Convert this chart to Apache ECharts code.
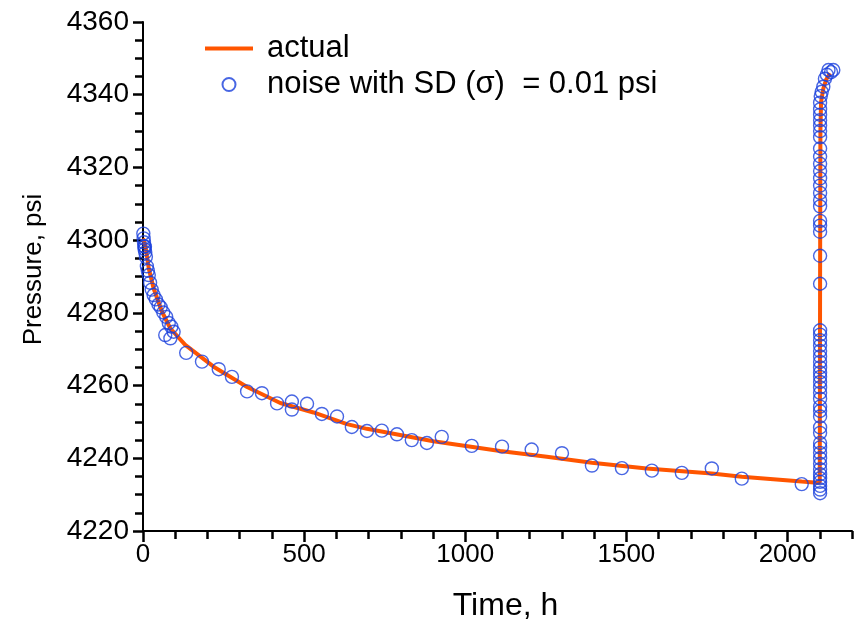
<!DOCTYPE html>
<html>
<head>
<meta charset="utf-8">
<script src="https://cdn.jsdelivr.net/npm/echarts@6/dist/echarts.min.js"></script>
<style>
html,body{margin:0;padding:0;background:#fff;}
#c{width:863px;height:632px;}
</style>
</head>
<body>
<div id="c"></div>
<script>
// ---- data (time in h, pressure in psi) ----
const actualTime = [0, 7, 18, 33, 59, 85, 131, 219, 323, 426, 529, 633, 695, 901, 1108, 1253, 1393, 1563, 1765, 1858, 2044, 2092, 2100, 2101, 2102, 2104, 2111, 2120, 2132];
const actualPressure = [4300.5, 4298.7, 4292.2, 4286.7, 4280.3, 4275.7, 4271.2, 4265.2, 4259.6, 4255.2, 4252.6, 4249.4, 4248.1, 4244.7, 4242.0, 4240.4, 4238.8, 4237.2, 4235.8, 4234.9, 4233.6, 4233.3, 4233.4, 4290, 4330, 4338, 4341.7, 4344.2, 4345.9];

const noiseTime = [1, 2, 3, 4, 5, 6, 7, 9, 12, 15, 18, 22, 27, 33, 40, 48, 55, 63, 72, 80, 88, 69, 85, 95,
  134, 183, 235, 276, 323, 369, 416, 462, 462, 509, 555, 602, 648, 695, 741, 788, 834, 881, 927, 1020, 1114, 1206, 1300, 1393, 1486, 1579, 1672, 1765, 1858, 2044,
  2101, 2101, 2101, 2101, 2101, 2101, 2101, 2101, 2101, 2101, 2101, 2101,
  2101, 2101, 2101, 2101, 2101,
  2101, 2101, 2101, 2101, 2101, 2101,
  2101, 2101, 2101, 2101, 2101, 2101, 2101, 2101,
  2101, 2101, 2101, 2101, 2101,
  2101, 2101, 2101, 2101, 2101, 2101, 2101, 2101, 2101,
  2101, 2101, 2101, 2101, 2101, 2101, 2101,
  2103, 2106, 2111, 2116, 2122, 2127, 2135, 2142];
const noisePressure = [4301.8, 4300.5, 4299.4, 4298.3, 4297.5, 4298.2, 4296.6, 4295.4, 4292.8, 4291.6, 4290.4, 4288.3, 4286.4, 4284.9, 4283.7, 4282.3, 4281.5, 4280.1, 4278.9, 4277.2, 4276.2, 4273.9, 4273.0, 4274.8,
  4269.0, 4266.6, 4264.5, 4262.4, 4258.4, 4257.9, 4255.1, 4255.6, 4253.4, 4255.0, 4252.2, 4251.5, 4248.6, 4247.5, 4247.6, 4246.6, 4245.0, 4244.2, 4245.9, 4243.4, 4243.2, 4242.4, 4241.4, 4238.0, 4237.3, 4236.6, 4236.0, 4237.2, 4234.4, 4232.9,
  4230.4, 4231.4, 4232.4, 4233.5, 4234.5, 4235.6, 4237.0, 4238.5, 4240.0, 4241.5, 4243.0, 4244.2,
  4247.0, 4248.5, 4251.5, 4253.0, 4254.2,
  4256.4, 4258.0, 4259.5, 4261.0, 4262.4, 4263.6,
  4265.0, 4266.5, 4268.0, 4269.5, 4271.0, 4272.5, 4274.0, 4275.2,
  4288.0, 4295.7, 4302.3, 4304.0, 4305.3,
  4309.3, 4311.0, 4313.0, 4315.0, 4317.0, 4319.0, 4321.0, 4323.0, 4325.2,
  4328.3, 4330.0, 4331.5, 4333.0, 4334.5, 4336.0, 4337.8,
  4339.6, 4340.8, 4342.2, 4344.4, 4345.5, 4346.8, 4346.2, 4346.8];

const xMajorTicks = [0, 500, 1000, 1500, 2000];
const seriesNames = ['actual', 'noise with SD (\u03c3)  = 0.01 psi'];

// ---- chart ----
const zip = (a, b) => a.map((v, i) => [v, b[i]]);
const FONT = '"Liberation Sans", Arial, sans-serif';
const ORANGE = '#ff5500';
const BLUE = '#1a40dc';

const chart = echarts.init(document.getElementById('c'), null, {renderer: 'canvas'});
chart.setOption({
  animation: false,
  backgroundColor: '#fff',
  grid: {left: 143, right: 11, top: 22, bottom: 101},
  legend: {
    orient: 'vertical',
    left: 205, top: 33,
    itemWidth: 48, itemHeight: 13,
    itemGap: 5,
    padding: 0,
    textStyle: {fontFamily: FONT, fontSize: 31, color: '#000', padding: [0, 0, 0, 9]},
    data: [
      {name: seriesNames[0], icon: 'path://M0,0 M48,13 M0,4.5 L48,4.5 L48,8.5 L0,8.5 Z', itemStyle: {color: ORANGE, borderWidth: 0}},
      {name: seriesNames[1]}
    ]
  },
  xAxis: [{
    type: 'value', min: 0, max: 2200,
    interval: 500,
    position: 'bottom',
    splitLine: {show: false},
    axisLine: {lineStyle: {color: '#000', width: 2}},
    axisTick: {show: true, customValues: xMajorTicks, length: 11, lineStyle: {color: '#000', width: 2.5}},
    axisLabel: {customValues: xMajorTicks, fontFamily: FONT, fontSize: 26, color: '#000', margin: 11, formatter: v => String(v)},
    name: 'Time, h', nameLocation: 'middle', nameGap: 59,
    nameTextStyle: {fontFamily: FONT, fontSize: 32, color: '#000', padding: [0, 0, 0, 16]}
  }, {
    type: 'value', min: 0, max: 2200,
    interval: 100,
    position: 'bottom',
    splitLine: {show: false},
    axisLine: {show: false},
    axisTick: {show: true, length: 8, lineStyle: {color: '#000', width: 2.5}},
    axisLabel: {show: false}
  }],
  yAxis: {
    type: 'value', min: 4220, max: 4360, interval: 20,
    splitLine: {show: false},
    axisLine: {show: true, lineStyle: {color: '#000', width: 2}},
    axisTick: {show: true, length: 10, lineStyle: {color: '#000', width: 2.5}},
    minorTick: {show: true, splitNumber: 4, length: 8, lineStyle: {color: '#000', width: 2.5}},
    axisLabel: {fontFamily: FONT, fontSize: 28, color: '#000', margin: 14, formatter: v => String(v)},
    name: 'Pressure, psi', nameLocation: 'middle', nameGap: 96, nameRotate: 90,
    nameTextStyle: {fontFamily: FONT, fontSize: 26, color: '#000', padding: [0, 0, 0, 14]}
  },
  series: [{
    name: seriesNames[0],
    type: 'line',
    xAxisIndex: 0,
    data: zip(actualTime, actualPressure),
    showSymbol: false, symbol: 'none',
    smooth: false,
    lineStyle: {color: ORANGE, width: 4},
    itemStyle: {color: ORANGE},
    z: 2
  }, {
    name: seriesNames[1],
    type: 'scatter',
    xAxisIndex: 0,
    data: zip(noiseTime, noisePressure),
    symbol: 'circle',
    symbolSize: 13,
    itemStyle: {color: 'rgba(0,0,0,0)', borderColor: BLUE, borderWidth: 1.4},
    z: 3
  }]
});
</script>
</body>
</html>
